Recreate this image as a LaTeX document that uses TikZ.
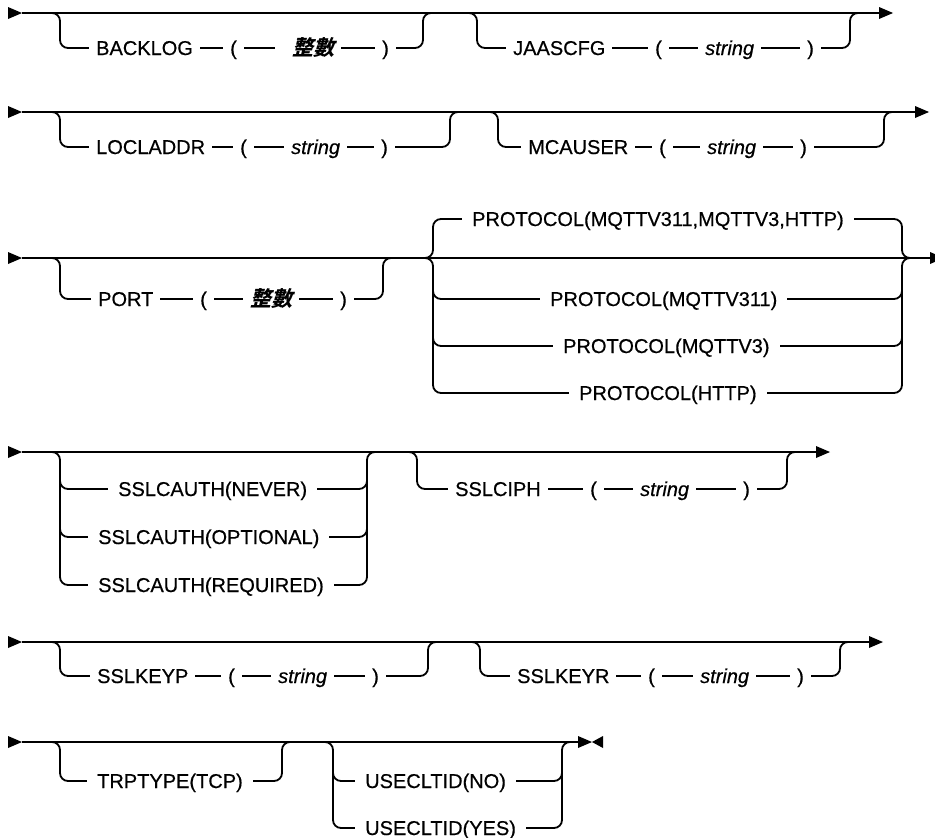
\documentclass[tikz,border=0pt]{standalone}
\usepackage{fontspec}
\setmainfont{Liberation Sans}[FakeBold=0.5]
\newfontfamily\cjkfont[FakeSlant=0.25]{Noto Sans CJK TC}
\newcommand\kwfont{\fontsize{20}{24}\selectfont}
\newcommand\rtip[1]{\fill (#1) -- ++(-14,-6) -- ++(0,12) -- cycle;}
\newcommand\ltip[1]{\fill (#1) -- ++(11,-6) -- ++(0,12) -- cycle;}
\tikzset{
  rail/.style={line width=1.8pt, rounded corners=8pt},
  mainrail/.style={line width=1.8pt},
  tok/.style={font=\kwfont, fill=white, inner xsep=7pt, inner ysep=3pt, anchor=base west},
  var/.style={tok, font=\kwfont\itshape},
  cjk/.style={tok, font=\fontsize{21}{24}\selectfont\cjkfont\bfseries},
  choice/.style={tok, inner xsep=10pt},
}
\begin{document}
\begin{tikzpicture}[x=1pt,y=-1pt]
\clip (0,0) rectangle (935,838);
\fill[white] (0,0) rectangle (935,838);

% ---------- Row 1 ----------
\coordinate (s1) at (22,13);
\coordinate (e1) at (893,13);
\draw[mainrail] (s1) -- ([xshift=-7pt]e1);
\rtip{s1}\rtip{e1}
\draw[rail] (50,13) -- (60,13) -- (60,48) -- (423,48) -- (423,13) -- (433,13);
\draw[rail] (467,13) -- (477,13) -- (477,48) -- (850,48) -- (850,13) -- (860,13);
\node[tok] (backlog) at (89,55) {BACKLOG};
\node[tok] (bllp) at (223,55) {(};
\node[cjk] (blint) at (275,55) {\hspace{10pt}整數};
\node[tok] (blrp) at (375,55) {)};
\node[tok] (jaas) at (506,55) {JAASCFG};
\node[tok] (jalp) at (648,55) {(};
\node[var] (jastr) at (698,55) {string};
\node[tok] (jarp) at (800,55) {)};

% ---------- Row 2 ----------
\coordinate (s2) at (22,112);
\coordinate (e2) at (929,112);
\draw[mainrail] (s2) -- ([xshift=-7pt]e2);
\rtip{s2}\rtip{e2}
\draw[rail] (50,112) -- (60,112) -- (60,147) -- (450,147) -- (450,112) -- (460,112);
\draw[rail] (488,112) -- (498,112) -- (498,147) -- (884,147) -- (884,112) -- (893,112);
\node[tok] (locl) at (89,154) {LOCLADDR};
\node[tok] (lolp) at (233,154) {(};
\node[var] (lostr) at (284,154) {string};
\node[tok] (lorp) at (374,154) {)};
\node[tok] (mcau) at (521,154) {MCAUSER};
\node[tok] (mclp) at (652,154) {(};
\node[var] (mcstr) at (700,154) {string};
\node[tok] (mcrp) at (793,154) {)};

% ---------- Row 3 ----------
\coordinate (s3) at (22,258);
\coordinate (e3) at (944,258);
\draw[mainrail] (s3) -- ([xshift=-7pt]e3);
\rtip{s3}\rtip{e3}
\draw[rail] (50,258) -- (60,258) -- (60,299) -- (383,299) -- (383,258) -- (393,258);
\node[tok] (port) at (91,306) {PORT};
\node[tok] (polp) at (193,306) {(};
\node[cjk] (point) at (243,306) {整數};
\node[tok] (porp) at (333,306) {)};
% protocol group
\draw[rail] (423,258) -- (433,258) -- (433,219) -- (902,219) -- (902,258) -- (912,258);
\draw[rail] (423,258) -- (433,258) -- (433,393) -- (902,393) -- (902,258) -- (912,258);
\draw[rail] (433,280) -- (433,299) -- (902,299) -- (902,280);
\draw[rail] (433,327) -- (433,346) -- (902,346) -- (902,327);
\node[choice] (pdef) at (462,226) {PROTOCOL(MQTTV311,MQTTV3,HTTP)\hspace{14pt}};
\node[choice] (p311) at (540,306) {PROTOCOL(MQTTV311)\hspace{8pt}};
\node[choice] (pv3) at (553,353) {PROTOCOL(MQTTV3)\hspace{8pt}};
\node[choice] (phttp) at (569,400) {PROTOCOL(HTTP)\hspace{8pt}};

% ---------- Row 4 ----------
\coordinate (s4) at (22,452);
\coordinate (e4) at (830,452);
\draw[mainrail] (s4) -- ([xshift=-7pt]e4);
\rtip{s4}\rtip{e4}
\draw[rail] (50,452) -- (60,452) -- (60,585) -- (367,585) -- (367,452) -- (377,452);
\draw[rail] (60,470) -- (60,489) -- (367,489) -- (367,470);
\draw[rail] (60,518) -- (60,537) -- (367,537) -- (367,518);
\node[choice] (never) at (108,496) {SSLCAUTH(NEVER)\hspace{8pt}};
\node[choice] (optional) at (88,544) {SSLCAUTH(OPTIONAL)\hspace{8pt}};
\node[choice] (required) at (88,592) {SSLCAUTH(REQUIRED)\hspace{8pt}};
\draw[rail] (407,452) -- (417,452) -- (417,489) -- (787,489) -- (787,452) -- (797,452);
\node[tok] (ciph) at (448,496) {SSLCIPH};
\node[tok] (cilp) at (583,496) {(};
\node[var] (cistr) at (633,496) {string};
\node[tok] (cirp) at (736,496) {)};

% ---------- Row 5 ----------
\coordinate (s5) at (22,642);
\coordinate (e5) at (883,642);
\draw[mainrail] (s5) -- ([xshift=-7pt]e5);
\rtip{s5}\rtip{e5}
\draw[rail] (50,642) -- (60,642) -- (60,676) -- (428,676) -- (428,642) -- (438,642);
\draw[rail] (470,642) -- (480,642) -- (480,676) -- (840,676) -- (840,642) -- (848,642);
\node[tok] (keyp) at (90,683) {SSLKEYP};
\node[tok] (kplp) at (221,683) {(};
\node[var] (kpstr) at (271,683) {string};
\node[tok] (kprp) at (365,683) {)};
\node[tok] (keyr) at (510,683) {SSLKEYR};
\node[tok] (krlp) at (641,683) {(};
\node[var] (krstr) at (693,683) {string};
\node[tok] (krrp) at (790,683) {)};

% ---------- Row 6 ----------
\coordinate (s6) at (22,742);
\coordinate (e6) at (592,742);
\draw[mainrail] (s6) -- ([xshift=-6pt]e6);
\rtip{s6}\rtip{e6}\ltip{e6}
\draw[rail] (50,742) -- (60,742) -- (60,781) -- (282,781) -- (282,742) -- (290,742);
\node[choice] (trp) at (87,788) {TRPTYPE(TCP)\hspace{8pt}};
\draw[rail] (323,742) -- (333,742) -- (333,828) -- (562,828) -- (562,742) -- (570,742);
\draw[rail] (333,762) -- (333,781) -- (562,781) -- (562,762);
\node[choice] (useno) at (355,788) {USECLTID(NO)\hspace{8pt}};
\node[choice] (useyes) at (355,835) {USECLTID(YES)\hspace{8pt}};
\end{tikzpicture}
\end{document}
